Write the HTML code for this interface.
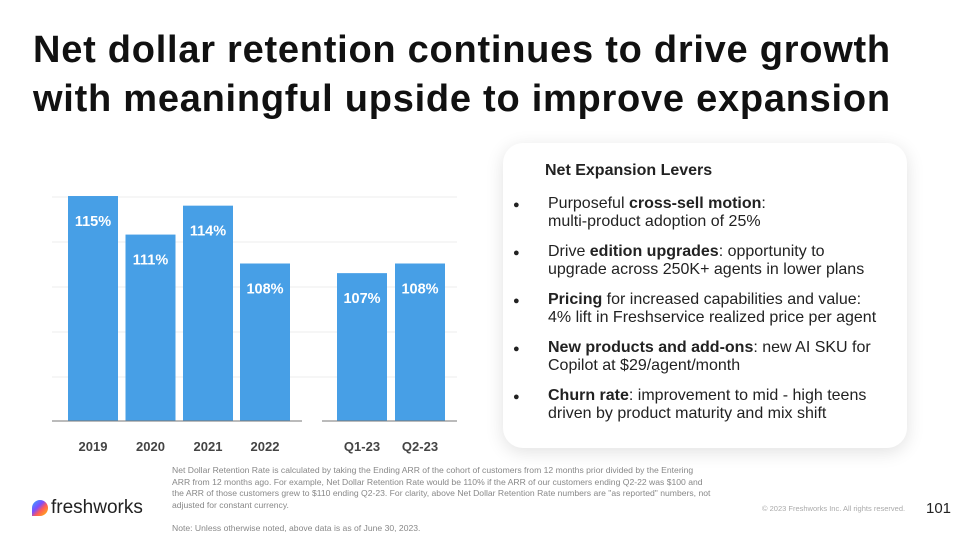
<!DOCTYPE html>
<html><head><meta charset="utf-8"><style>
body{margin:0;width:960px;height:540px;background:#fff;font-family:"Liberation Sans",sans-serif;overflow:hidden;position:relative}
.title{position:absolute;left:33px;top:26px;font-size:38px;font-weight:bold;line-height:49px;color:#111;letter-spacing:0.75px}
.card{position:absolute;left:503px;top:143px;width:404px;height:305px;border-radius:20px;background:#fff;box-shadow:0 4px 18px rgba(0,0,0,0.12)}
.card h3{position:absolute;left:42px;top:19px;margin:0;font-size:16px;font-weight:bold;color:#222}
.item{position:absolute;left:45px;white-space:nowrap;font-size:16px;line-height:18px;color:#222}
.item:before{content:"●";position:absolute;left:-35px;top:1px;font-size:11px}
.foot{position:absolute;left:172px;top:465px;width:540px;font-size:8.6px;line-height:11.5px;color:#888}
</style></head><body>
<div class="title">Net dollar retention continues to drive growth<br>with meaningful upside to improve expansion</div>
<svg id="chart" width="960" height="540" style="position:absolute;left:0;top:0"></svg>
<div class="card">
<h3>Net Expansion Levers</h3>
<div class="item" style="top:52px">Purposeful <b>cross-sell motion</b>:<br>multi-product adoption of 25%</div>
<div class="item" style="top:100px">Drive <b>edition upgrades</b>: opportunity to<br>upgrade across 250K+ agents in lower plans</div>
<div class="item" style="top:148px"><b>Pricing</b> for increased capabilities and value:<br>4% lift in Freshservice realized price per agent</div>
<div class="item" style="top:196px"><b>New products and add-ons</b>: new AI SKU for<br>Copilot at $29/agent/month</div>
<div class="item" style="top:244px"><b>Churn rate</b>: improvement to mid - high teens<br>driven by product maturity and mix shift</div>
</div>
<div class="foot">Net Dollar Retention Rate is calculated by taking the Ending ARR of the cohort of customers from 12 months prior divided by the Entering ARR from 12 months ago. For example, Net Dollar Retention Rate would be 110% if the ARR of our customers ending Q2-22 was $100 and the ARR of those customers grew to $110 ending Q2-23. For clarity, above Net Dollar Retention Rate numbers are "as reported" numbers, not adjusted for constant currency.<br><br>Note: Unless otherwise noted, above data is as of June 30, 2023.</div>
<div style="position:absolute;left:32px;top:497px;font-size:19px;color:#222;display:flex;align-items:center"><span style="display:inline-block;width:16px;height:16px;border-radius:50% 50% 50% 0;background:linear-gradient(135deg,#2fb0ff,#7c4dff 40%,#ff5a5a 60%,#ffc400);margin-right:3px"></span>freshworks</div>
<div style="position:absolute;left:762px;top:504px;font-size:7.5px;color:#aaa">© 2023 Freshworks Inc. All rights reserved.</div>
<div style="position:absolute;left:926px;top:500px;font-size:15px;color:#222">101</div>
<script>
const categories=["2019","2020","2021","2022","Q1-23","Q2-23"];
const values=[115,111,114,108,107,108];
const labels=["115%","111%","114%","108%","107%","108%"];
const svg=document.getElementById('chart');
const NS="http://www.w3.org/2000/svg";
function y(v){return 263.5-(v-108)*9.64;}
const baseY=421;
const xs=[68,125.5,183,240,337,395];const bw=50;
function mk(t,a){const e=document.createElementNS(NS,t);for(const k in a)e.setAttribute(k,a[k]);svg.appendChild(e);return e;}
[197,242,287,332,377].forEach(g=>{
const l=mk('line',{x1:52,x2:457,y1:g,y2:g,stroke:'#eee','stroke-width':1});


});
categories.forEach((c,i)=>{
const top=y(values[i]);
const r=mk('rect',{x:xs[i],y:top,width:bw,height:baseY-top,fill:'#479fe6'});


const t=mk('text',{x:xs[i]+bw/2,y:top+30,'text-anchor':'middle',fill:'#fff','font-size':14.5,'font-weight':'bold','font-family':'Liberation Sans'});
t.textContent=labels[i];


const a=mk('text',{x:xs[i]+bw/2,y:451,'text-anchor':'middle',fill:'#444','font-size':13,'font-weight':'bold','font-family':'Liberation Sans'});
a.textContent=c;


});
const b1=mk('line',{x1:52,x2:302,y1:baseY,y2:baseY,stroke:'#777','stroke-width':1});


const b2=mk('line',{x1:322,x2:457,y1:baseY,y2:baseY,stroke:'#777','stroke-width':1});


</script>
</body></html>
